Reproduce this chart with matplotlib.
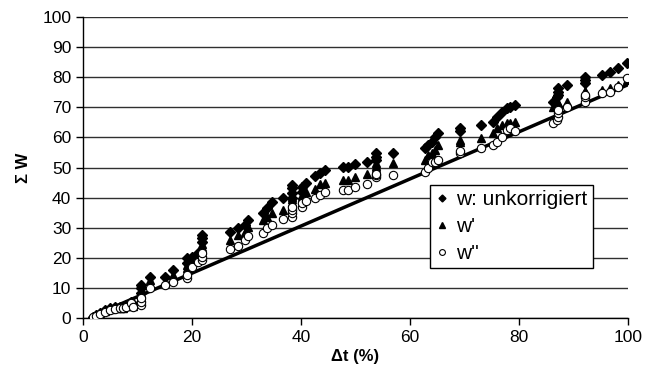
import matplotlib
matplotlib.use("Agg")
import matplotlib.pyplot as plt
import numpy as np

plt.rcParams['font.family'] = ['Liberation Sans', 'DejaVu Sans']

# measurement points (same dt for all three corrections)
dt = [1.8, 2.4, 3.1, 4.0, 5.0, 5.9, 6.8, 7.3, 7.9, 8.8, 9.2,
      10.6, 10.6, 10.6, 12.3, 15.0, 16.5, 19.1, 19.1, 20.0, 21.1,
      21.8, 21.8, 21.8, 27.0, 28.4, 29.7, 30.3, 33.0, 33.8, 34.7,
      36.7, 38.4, 38.4, 38.4, 38.4, 40.2, 40.2, 41.0, 42.6, 43.5,
      44.4, 47.7, 48.6, 49.9, 52.1, 53.8, 53.8, 53.8, 56.9, 62.8,
      63.3, 64.0, 64.6, 65.1, 69.2, 69.2, 73.0, 75.2, 76.0, 76.9,
      77.8, 78.3, 79.3, 86.2, 87.0, 87.2, 87.2, 87.2, 88.8, 92.1,
      92.1, 92.1, 95.2, 96.7, 98.2, 99.8]
w_unkorr = [0.5, 1.0, 1.8, 2.7, 3.3, 3.7, 3.8, 3.8, 4.3, 5.5, 4.3,
            8.3, 10.0, 11.0, 13.7, 13.7, 16.0, 18.3, 19.9, 20.3, 21.5,
            25.3, 26.6, 27.6, 28.7, 29.8, 30.9, 32.6, 34.9, 36.5, 38.5,
            39.9, 39.9, 41.5, 43.2, 44.2, 41.9, 43.5, 45.0, 47.2, 48.2,
            49.2, 50.2, 50.2, 51.2, 51.8, 52.5, 53.5, 54.8, 54.8, 56.5,
            57.5, 58.5, 60.1, 61.5, 62.0, 63.1, 64.1, 65.1, 66.8, 68.4,
            69.8, 70.1, 70.8, 71.8, 73.4, 75.1, 76.4, 74.0, 77.4, 78.0,
            79.0, 80.0, 80.7, 81.7, 83.1, 84.7]
w_1 = [0.4, 0.8, 1.5, 2.3, 3.0, 3.4, 3.5, 3.5, 4.0, 5.2, 4.0,
       7.0, 8.5, 9.5, 12.6, 11.8, 14.3, 16.6, 17.6, 17.9, 20.0,
       22.6, 23.7, 24.5, 26.0, 27.6, 28.7, 30.3, 32.6, 33.6, 34.9,
       35.9, 38.5, 39.5, 40.2, 41.0, 40.2, 41.0, 42.0, 43.0, 44.5,
       44.8, 45.8, 45.8, 47.0, 48.0, 49.8, 50.5, 51.5, 51.5, 52.5,
       54.2, 55.0, 55.8, 57.5, 58.5, 59.0, 59.8, 61.5, 63.1, 64.1,
       64.8, 64.8, 65.1, 70.1, 71.0, 71.4, 71.4, 71.0, 71.8, 75.1,
       75.1, 75.5, 75.7, 76.4, 77.4, 79.1]
w_2 = [0.3, 0.7, 1.3, 2.0, 2.7, 3.1, 3.3, 3.3, 3.7, 5.0, 3.7,
       4.3, 5.4, 6.6, 10.0, 11.0, 12.0, 13.3, 14.3, 17.0, 18.7,
       19.3, 20.4, 21.6, 23.0, 24.0, 26.0, 27.2, 28.2, 29.9, 30.9,
       32.9, 33.6, 34.9, 35.9, 36.9, 36.9, 38.2, 39.0, 40.0, 41.0,
       42.0, 42.5, 42.5, 43.6, 44.5, 46.8, 47.5, 48.0, 47.5, 48.5,
       50.0, 51.8, 51.8, 52.5, 54.8, 55.5, 56.5, 57.5, 58.5, 60.0,
       62.5, 63.1, 62.0, 64.8, 65.8, 66.8, 68.1, 69.1, 70.0, 71.8,
       73.4, 74.0, 74.8, 75.1, 76.7, 79.7]

# fitted line
line_x = [1.8, 100]
line_y = [0.7, 77.5]

fig = plt.figure(figsize=(6.54, 3.87), dpi=100)
ax = fig.add_axes([0.127, 0.178, 0.833, 0.778])

ax.set_axisbelow(True)
ax.yaxis.grid(True, color='#303030', linewidth=1)

ax.plot(line_x, line_y, color='black', linewidth=2.5, zorder=2)
ax.plot(dt, w_unkorr, linestyle='none', marker='D', markersize=5,
        color='black', label='w: unkorrigiert', zorder=3)
ax.plot(dt, w_1, linestyle='none', marker='^', markersize=6,
        color='black', label="w'", zorder=3)
ax.plot(dt, w_2, linestyle='none', marker='o', markersize=6,
        markerfacecolor='white', markeredgecolor='black', markeredgewidth=0.8,
        label="w''", zorder=4)

ax.set_xlim(0, 100)
ax.set_ylim(0, 100)
ax.set_xticks(np.arange(0, 101, 20))
ax.set_yticks(np.arange(0, 101, 10))
ax.tick_params(direction='out', length=5, width=1, labelsize=12.5, colors='black')

for s in ['top', 'right']:
    ax.spines[s].set_visible(False)
for s in ['left', 'bottom']:
    ax.spines[s].set_linewidth(1)

ax.set_xlabel('Δt (%)', fontsize=12, fontweight='bold', labelpad=3)
ax.set_ylabel('Σ W', fontsize=12, fontweight='bold', labelpad=8)

leg = ax.legend(loc='upper left', bbox_to_anchor=(0.637, 0.442), fontsize=15,
                numpoints=1, markerscale=0.7, fancybox=False, framealpha=1,
                edgecolor='black', handlelength=0.6, handletextpad=0.4,
                borderpad=0.25, labelspacing=0.38, borderaxespad=0)
leg.get_frame().set_linewidth(1)

fig.savefig('out.png', dpi=100)
